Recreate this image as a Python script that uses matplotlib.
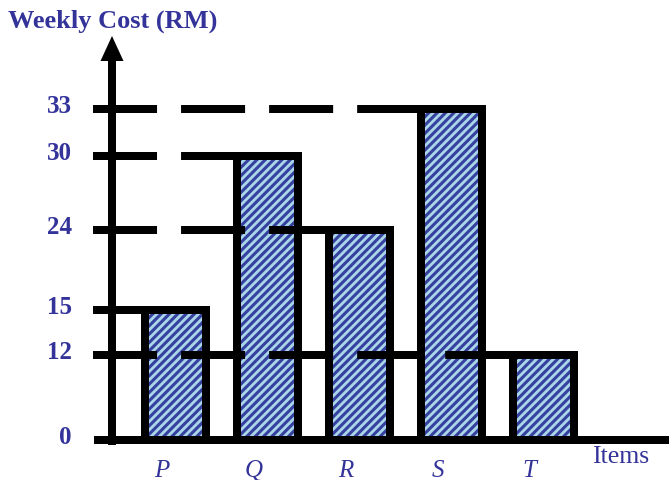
import numpy as np
import matplotlib
matplotlib.use("Agg")
import matplotlib.pyplot as plt
from matplotlib.patches import Polygon

# Weekly cost per item (RM)
items = ["P", "Q", "R", "S", "T"]
costs = [15, 30, 24, 33, 12]
tick_values = [0, 12, 15, 24, 30, 33]

# The axis is drawn "not to scale": each labelled value sits at its own height
# (pixels above the baseline), linear in between.
tick_heights = [0, 85.5, 130, 210, 284, 331]

TEXT_BLUE = "#33339a"
STRIPE_DARK = "#36409f"
STRIPE_LIGHT = "#a9d6e8"
LW = 8 * 0.72  # 8 px thick strokes, in points

plt.rcParams["font.family"] = ["Liberation Serif", "DejaVu Serif"]
plt.rcParams["hatch.linewidth"] = 2.2
plt.rcParams["lines.scale_dashes"] = False


def forward(v):
    v = np.asarray(v, dtype=float)
    return np.interp(v, tick_values, tick_heights) + np.where(v > 33, (v - 33) * 47 / 3, 0) + np.where(v < 0, v * 7, 0)


def inverse(h):
    h = np.asarray(h, dtype=float)
    return np.interp(h, tick_heights, tick_values) + np.where(h > 331, (h - 331) * 3 / 47, 0) + np.where(h < 0, h / 7, 0)


fig = plt.figure(figsize=(6.69, 4.81), dpi=100)
W, H = 669, 481
ax_left, ax_right, ax_bottom, ax_top = 112, 669, 441, 110
ax = fig.add_axes([ax_left / W, (H - ax_bottom) / H,
                   (ax_right - ax_left) / W, (ax_bottom - ax_top) / H])
ax.set_yscale("function", functions=(forward, inverse))
ax.set_ylim(0, 33)
ax.set_xlim(-0.69, 5.364)
ax.set_axis_off()

x = np.arange(len(items))
width = 0.67

# striped fill, then dashed guide lines, then the thick black outlines
ax.bar(x, costs, width=width, facecolor=STRIPE_LIGHT, edgecolor=STRIPE_DARK,
       hatch="////", linewidth=0, zorder=1)

x_start = -0.69 + (93 - 112) / 92
for xi, c in zip(x, costs):
    ax.plot([x_start, xi - width / 2], [c, c], color="black", lw=LW,
            dashes=(46.1, 17.3), solid_capstyle="butt", dash_capstyle="butt",
            zorder=2, clip_on=False)

ax.bar(x, costs, width=width, fill=False, edgecolor="black", linewidth=LW,
       joinstyle="miter", zorder=3, clip_on=False)

# axes: baseline and vertical axis with arrow head
ax_w = ax_right - ax_left
ax_h = ax_bottom - ax_top
ax.plot([(94 - ax_left) / ax_w, 1.0], [0, 0], color="black", lw=LW,
        solid_capstyle="butt", transform=ax.transAxes, clip_on=False, zorder=4)
ax.plot([0, 0], [-5 / ax_h, (ax_bottom - 60) / ax_h], color="black", lw=LW,
        solid_capstyle="butt", transform=ax.transAxes, clip_on=False, zorder=4)
head = Polygon([[-11.5 / ax_w, (ax_bottom - 62) / ax_h],
                [11.5 / ax_w, (ax_bottom - 62) / ax_h],
                [0, (ax_bottom - 37) / ax_h]],
               closed=True, facecolor="black", edgecolor="none",
               transform=ax.transAxes, clip_on=False, zorder=4)
ax.add_patch(head)

# value labels on the vertical axis
for v in tick_values:
    ax.annotate(str(v), xy=(0, v), xycoords=("axes fraction", "data"),
                xytext=(-40 * 0.72, 2.5), textcoords="offset points",
                ha="right", va="center", fontsize=18, fontweight="bold",
                color=TEXT_BLUE)

# item labels under the bars
for xi, name in zip(x, items):
    ax.annotate(name, xy=(xi, 0), xycoords=("data", "data"),
                xytext=(-14 * 0.72, -30 * 0.72), textcoords="offset points",
                ha="center", va="center", fontsize=18, style="italic",
                color=TEXT_BLUE)

fig.text(592 / W, 1 - 457 / H, "Items", ha="left", va="center",
         fontsize=18.5, color=TEXT_BLUE)
fig.text(8 / W, 1 - 21 / H, "Weekly Cost (RM)", ha="left", va="center",
         fontsize=19, fontweight="bold", color=TEXT_BLUE)

fig.savefig("out.png", dpi=100)
